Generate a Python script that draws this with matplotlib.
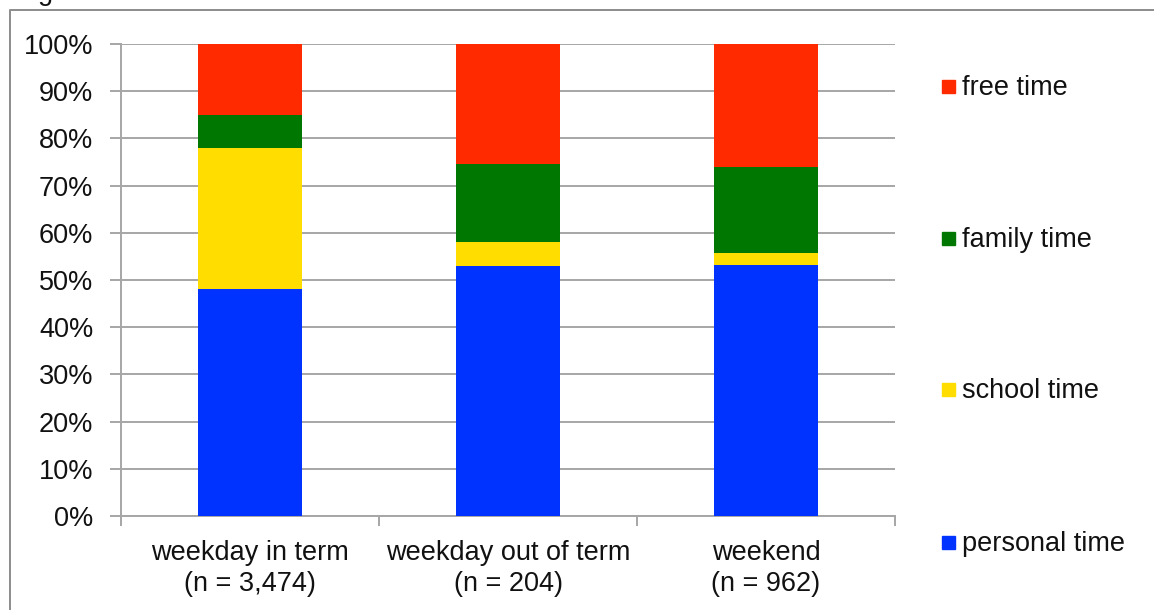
import matplotlib
matplotlib.use("Agg")
import matplotlib.pyplot as plt
from matplotlib.patches import Rectangle
from matplotlib.lines import Line2D
import numpy as np

plt.rcParams['font.family'] = ['Liberation Sans', 'DejaVu Sans']

categories = ["weekday in term\n(n = 3,474)", "weekday out of term\n(n = 204)", "weekend\n(n = 962)"]
series_names = ["personal time", "school time", "family time", "free time"]
personal = [48.0, 53.0, 53.2]
school = [30.0, 5.0, 2.5]
family = [7.0, 16.5, 18.3]
free = [15.0, 25.5, 26.0]
colors = ["#0033FF", "#FFDD00", "#007700", "#FF2A00"]
yticks = [0, 10, 20, 30, 40, 50, 60, 70, 80, 90, 100]

FS = 19.5
W, H = 1154, 610
fig = plt.figure(figsize=(W / 100, H / 100), dpi=100)

# plot area in pixel coordinates
left, right, top, bottom = 121, 895, 44, 516
ax = fig.add_axes([left / W, 1 - bottom / H, (right - left) / W, (bottom - top) / H])

x = np.arange(len(categories))
stack = [personal, school, family, free]
base = np.zeros(len(categories))
for vals, name, col in zip(stack, series_names, colors):
    ax.bar(x, vals, width=0.4, bottom=base, color=col, label=name, zorder=3)
    base = base + np.array(vals)

ax.set_xlim(-0.5, len(categories) - 0.5)
ax.set_ylim(0, 100)
ax.set_yticks(yticks)
ax.set_yticklabels([f"{v}%" for v in yticks], fontsize=FS, color="#111111")
ax.yaxis.grid(True, color="#A6A6A6", linewidth=1.4, zorder=0)
ax.set_axisbelow(True)

# categories on major ticks without marks, boundaries on minor ticks with marks
ax.set_xticks(x)
ax.set_xticklabels(categories, fontsize=FS, color="#111111", linespacing=1.27)
ax.tick_params(axis="x", which="major", length=0, pad=17)
ax.set_xticks(np.arange(len(categories) + 1) - 0.5, minor=True)
ax.tick_params(axis="x", which="minor", length=7, width=1.4, color="#A6A6A6")
ax.tick_params(axis="y", length=8, width=1.4, color="#A6A6A6", pad=12)

for side in ["top", "right"]:
    ax.spines[side].set_visible(False)
for side in ["left", "bottom"]:
    ax.spines[side].set_color("#A6A6A6")
    ax.spines[side].set_linewidth(1.4)

# legend entries spread down the right side, top series first
legend_y = [87, 239, 390, 543]
for name, col, ly in zip(series_names[::-1], colors[::-1], legend_y):
    fig.patches.append(Rectangle((942 / W, 1 - (ly + 6) / H), 13 / W, 13 / H,
                                 transform=fig.transFigure, color=col))
    fig.text(962 / W, 1 - (ly + 1) / H, name, fontsize=FS, va="center", ha="left", color="#111111")

# outer frame
fig.lines.append(Line2D([10 / W, 10 / W, 1.01], [-0.01, 1 - 10 / H, 1 - 10 / H],
                        transform=fig.transFigure, color="#8C8C8C", linewidth=1.4))
fig.text(38 / W, 1 - 0.5 / H, "g", fontsize=FS, va="baseline", ha="left", color="#111111")

fig.savefig("out.png", dpi=100)
